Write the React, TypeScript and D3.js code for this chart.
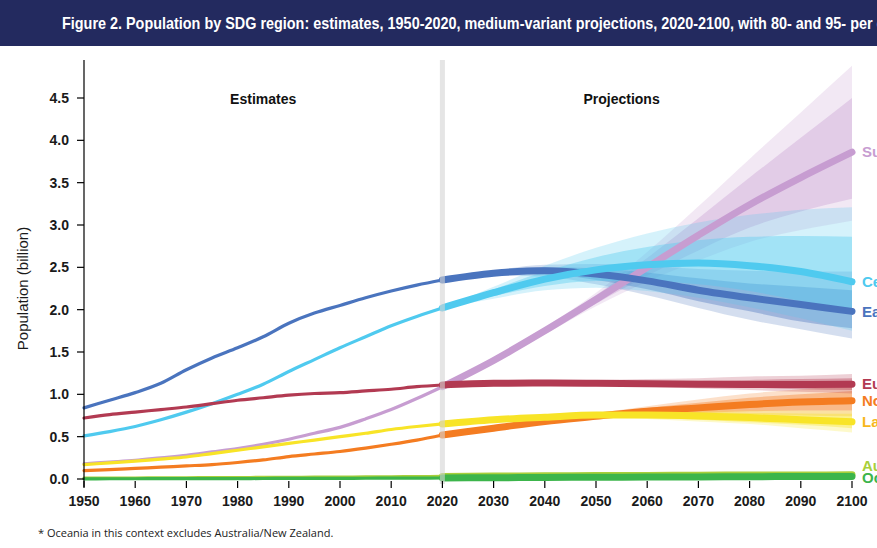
import React from 'react';
import * as d3 from 'd3';

const W = 877;
const H = 548;

const TITLE = 'Figure 2. Population by SDG region: estimates, 1950-2020, medium-variant projections, 2020-2100, with 80- and 95- per cent prediction intervals';
const FOOTNOTE = '* Oceania in this context excludes Australia/New Zealand.';
const Y_LABEL = 'Population (billion)';
const PERIOD_LABELS = ['Estimates', 'Projections'];

const EST_YEARS = [1950, 1955, 1960, 1965, 1970, 1975, 1980, 1985, 1990, 1995, 2000, 2005, 2010, 2015, 2020];
const PROJ_YEARS = [2020, 2030, 2040, 2050, 2060, 2070, 2080, 2090, 2100];
const X_TICKS = [1950, 1960, 1970, 1980, 1990, 2000, 2010, 2020, 2030, 2040, 2050, 2060, 2070, 2080, 2090, 2100];
const Y_TICKS = [0, 0.5, 1, 1.5, 2, 2.5, 3, 3.5, 4, 4.5];

// Sub-Saharan Africa
const ssaEst = [0.18, 0.2, 0.22, 0.25, 0.28, 0.32, 0.36, 0.41, 0.47, 0.54, 0.61, 0.71, 0.82, 0.95, 1.09];
const ssaProj = [1.09, 1.4, 1.75, 2.12, 2.5, 2.88, 3.24, 3.56, 3.86];
const ssaLo80 = [1.09, 1.39, 1.73, 2.07, 2.4, 2.7, 2.97, 3.16, 3.31];
const ssaHi80 = [1.09, 1.41, 1.77, 2.17, 2.61, 3.08, 3.56, 4.03, 4.5];
const ssaLo95 = [1.09, 1.39, 1.71, 2.04, 2.33, 2.58, 2.8, 2.94, 3.05];
const ssaHi95 = [1.09, 1.41, 1.79, 2.2, 2.68, 3.22, 3.78, 4.33, 4.88];

// Central and Southern Asia
const csaEst = [0.51, 0.56, 0.62, 0.7, 0.79, 0.89, 1.0, 1.12, 1.27, 1.41, 1.55, 1.68, 1.81, 1.92, 2.02];
const csaProj = [2.02, 2.2, 2.36, 2.47, 2.53, 2.55, 2.52, 2.45, 2.33];
const csaLo80 = [2.02, 2.16, 2.28, 2.34, 2.34, 2.3, 2.22, 2.1, 1.95];
const csaHi80 = [2.02, 2.24, 2.45, 2.62, 2.74, 2.82, 2.86, 2.87, 2.86];
const csaLo95 = [2.02, 2.13, 2.23, 2.26, 2.22, 2.14, 2.03, 1.9, 1.75];
const csaHi95 = [2.02, 2.27, 2.52, 2.73, 2.9, 3.03, 3.12, 3.18, 3.21];

// Eastern and South-Eastern Asia
const esaEst = [0.84, 0.93, 1.02, 1.13, 1.29, 1.43, 1.55, 1.68, 1.84, 1.96, 2.05, 2.14, 2.22, 2.29, 2.35];
const esaProj = [2.35, 2.43, 2.46, 2.42, 2.34, 2.23, 2.14, 2.06, 1.98];
const esaLo80 = [2.35, 2.41, 2.42, 2.35, 2.24, 2.1, 1.98, 1.86, 1.78];
const esaHi80 = [2.35, 2.45, 2.5, 2.49, 2.44, 2.37, 2.31, 2.27, 2.23];
const esaLo95 = [2.35, 2.4, 2.39, 2.3, 2.17, 2.02, 1.88, 1.77, 1.66];
const esaHi95 = [2.35, 2.46, 2.53, 2.54, 2.52, 2.48, 2.46, 2.45, 2.45];

// Europe and Northern America
const enaEst = [0.72, 0.76, 0.79, 0.82, 0.85, 0.89, 0.93, 0.96, 0.99, 1.01, 1.02, 1.04, 1.06, 1.09, 1.11];
const enaProj = [1.11, 1.13, 1.135, 1.13, 1.125, 1.12, 1.115, 1.115, 1.12];
const enaLo80 = [1.11, 1.12, 1.12, 1.11, 1.1, 1.09, 1.08, 1.06, 1.05];
const enaHi80 = [1.11, 1.14, 1.15, 1.15, 1.16, 1.16, 1.17, 1.18, 1.19];
const enaLo95 = [1.11, 1.12, 1.11, 1.1, 1.09, 1.07, 1.05, 1.03, 1.01];
const enaHi95 = [1.11, 1.14, 1.16, 1.17, 1.18, 1.19, 1.21, 1.22, 1.24];

// Northern Africa and Western Asia
const nawEst = [0.1, 0.11, 0.125, 0.14, 0.155, 0.17, 0.195, 0.225, 0.265, 0.295, 0.325, 0.365, 0.41, 0.46, 0.52];
const nawProj = [0.52, 0.6, 0.68, 0.74, 0.8, 0.84, 0.88, 0.91, 0.925];
const nawLo80 = [0.52, 0.595, 0.67, 0.72, 0.76, 0.78, 0.8, 0.81, 0.81];
const nawHi80 = [0.52, 0.605, 0.69, 0.76, 0.84, 0.9, 0.96, 1.0, 1.04];
const nawLo95 = [0.52, 0.59, 0.66, 0.71, 0.74, 0.75, 0.76, 0.75, 0.74];
const nawHi95 = [0.52, 0.61, 0.7, 0.78, 0.86, 0.94, 1.01, 1.06, 1.1];

// Latin America and the Caribbean
const lacEst = [0.17, 0.19, 0.21, 0.235, 0.26, 0.3, 0.34, 0.38, 0.42, 0.46, 0.5, 0.54, 0.585, 0.62, 0.65];
const lacProj = [0.65, 0.7, 0.73, 0.755, 0.755, 0.745, 0.725, 0.7, 0.675];
const lacLo80 = [0.65, 0.695, 0.72, 0.735, 0.72, 0.7, 0.67, 0.64, 0.6];
const lacHi80 = [0.65, 0.705, 0.74, 0.775, 0.79, 0.79, 0.78, 0.775, 0.77];
const lacLo95 = [0.65, 0.69, 0.715, 0.725, 0.71, 0.68, 0.65, 0.6, 0.55];
const lacHi95 = [0.65, 0.71, 0.745, 0.785, 0.8, 0.81, 0.81, 0.81, 0.81];

// Australia/New Zealand
const anzEst = [0.01, 0.011, 0.012, 0.014, 0.015, 0.016, 0.017, 0.019, 0.02, 0.021, 0.023, 0.024, 0.026, 0.028, 0.03];
const anzProj = [0.03, 0.034, 0.037, 0.04, 0.042, 0.045, 0.047, 0.048, 0.049];
const anzLo80 = [0.03, 0.033, 0.036, 0.038, 0.04, 0.041, 0.042, 0.043, 0.043];
const anzHi80 = [0.03, 0.035, 0.038, 0.042, 0.045, 0.048, 0.051, 0.053, 0.055];
const anzLo95 = [0.03, 0.033, 0.035, 0.037, 0.038, 0.039, 0.04, 0.04, 0.04];
const anzHi95 = [0.03, 0.035, 0.039, 0.043, 0.047, 0.051, 0.054, 0.057, 0.06];

// Oceania*
const oceEst = [0.002, 0.003, 0.003, 0.004, 0.004, 0.005, 0.005, 0.006, 0.007, 0.007, 0.008, 0.009, 0.01, 0.011, 0.012];
const oceProj = [0.012, 0.015, 0.018, 0.021, 0.023, 0.025, 0.027, 0.029, 0.03];
const oceLo80 = [0.012, 0.015, 0.017, 0.02, 0.021, 0.022, 0.024, 0.025, 0.025];
const oceHi80 = [0.012, 0.015, 0.019, 0.022, 0.025, 0.028, 0.03, 0.032, 0.034];
const oceLo95 = [0.012, 0.014, 0.017, 0.019, 0.02, 0.021, 0.022, 0.023, 0.023];
const oceHi95 = [0.012, 0.016, 0.019, 0.023, 0.026, 0.029, 0.032, 0.035, 0.037];

type Region = {
  name: string; color: string; labelColor: string; labelDy: number;
  est: number[]; proj: number[]; lo80: number[]; hi80: number[]; lo95: number[]; hi95: number[];
};

const REGIONS: Region[] = [
  { name: 'Sub-Saharan Africa', color: '#c79dd1', labelColor: '#c79dd1', labelDy: 0, est: ssaEst, proj: ssaProj, lo80: ssaLo80, hi80: ssaHi80, lo95: ssaLo95, hi95: ssaHi95 },
  { name: 'Eastern and South-Eastern Asia', color: '#4a74be', labelColor: '#4a74be', labelDy: 0, est: esaEst, proj: esaProj, lo80: esaLo80, hi80: esaHi80, lo95: esaLo95, hi95: esaHi95 },
  { name: 'Central and Southern Asia', color: '#4fcaef', labelColor: '#4fcaef', labelDy: 0, est: csaEst, proj: csaProj, lo80: csaLo80, hi80: csaHi80, lo95: csaLo95, hi95: csaHi95 },
  { name: 'Northern Africa and Western Asia', color: '#f47c21', labelColor: '#f47c21', labelDy: 0, est: nawEst, proj: nawProj, lo80: nawLo80, hi80: nawHi80, lo95: nawLo95, hi95: nawHi95 },
  { name: 'Latin America and the Caribbean', color: '#f8e427', labelColor: '#f7b71d', labelDy: 0, est: lacEst, proj: lacProj, lo80: lacLo80, hi80: lacHi80, lo95: lacLo95, hi95: lacHi95 },
  { name: 'Europe and Northern America', color: '#b23a52', labelColor: '#b23a52', labelDy: 0, est: enaEst, proj: enaProj, lo80: enaLo80, hi80: enaHi80, lo95: enaLo95, hi95: enaHi95 },
  { name: 'Australia/New Zealand', color: '#a8cf3a', labelColor: '#a8cf3a', labelDy: -9, est: anzEst, proj: anzProj, lo80: anzLo80, hi80: anzHi80, lo95: anzLo95, hi95: anzHi95 },
  { name: 'Oceania*', color: '#3cb54b', labelColor: '#3cb54b', labelDy: 1, est: oceEst, proj: oceProj, lo80: oceLo80, hi80: oceHi80, lo95: oceLo95, hi95: oceHi95 },
];

const x = d3.scaleLinear().domain([1950, 2100]).range([84, 852]);
const y = d3.scaleLinear().domain([0, 4.5]).range([479, 98]);

const line = d3.line<[number, number]>().x(d => x(d[0])).y(d => y(d[1])).curve(d3.curveMonotoneX);
const area = d3.area<[number, number, number]>().x(d => x(d[0])).y0(d => y(d[1])).y1(d => y(d[2])).curve(d3.curveMonotoneX);

const zip2 = (ys: number[], vs: number[]) => ys.map((yr, i) => [yr, vs[i]] as [number, number]);
const zip3 = (ys: number[], a: number[], b: number[]) => ys.map((yr, i) => [yr, a[i], b[i]] as [number, number, number]);

const AXIS_FONT = 'Arial, "Liberation Sans", Helvetica, sans-serif';

export default function App() {
  const x2020 = x(2020);
  return (
    <svg width={W} height={H} viewBox={`0 0 ${W} ${H}`} style={{ position: 'fixed', left: 0, top: 0, background: '#fff', overflow: 'hidden' }}>
      <rect x={0} y={0} width={W} height={H} fill="#ffffff" />
      <rect x={0} y={0} width={W} height={46} fill="#232a5f" />
      <text transform="translate(62, 29) scale(0.9, 1)" x={0} y={0} fill="#ffffff" fontFamily={AXIS_FONT} fontWeight="bold" fontSize={16}>{TITLE}</text>

      {/* prediction intervals */}
      {REGIONS.map(r => (
        <g key={r.name + 'band'}>
          <path d={area(zip3(PROJ_YEARS, r.lo95, r.hi95)) || ''} fill={r.color} fillOpacity={0.24} />
          <path d={area(zip3(PROJ_YEARS, r.lo80, r.hi80)) || ''} fill={r.color} fillOpacity={0.38} />
        </g>
      ))}

      {/* estimates */}
      {REGIONS.map(r => (
        <path key={r.name + 'est'} d={line(zip2(EST_YEARS, r.est)) || ''} fill="none" stroke={r.color} strokeWidth={3.2} strokeLinecap="round" />
      ))}

      {/* projections */}
      {REGIONS.map(r => (
        <path key={r.name + 'proj'} d={line(zip2(PROJ_YEARS, r.proj)) || ''} fill="none" stroke={r.color} strokeWidth={7} strokeLinecap="round" />
      ))}

      {/* 2020 divider */}
      <rect x={x2020 - 2.5} y={60} width={5} height={424} fill="#d4d4d4" fillOpacity={0.6} />

      {/* y axis */}
      <line x1={84} x2={84} y1={60} y2={487} stroke="#000" strokeWidth={1.2} />
      {Y_TICKS.map(t => (
        <g key={'y' + t}>
          <line x1={77} x2={84} y1={y(t)} y2={y(t)} stroke="#000" strokeWidth={1.2} />
          <text x={69} y={y(t)} dy="0.35em" textAnchor="end" fontFamily={AXIS_FONT} fontWeight="bold" fontSize={14} fill="#1a1a1a">{t.toFixed(1)}</text>
        </g>
      ))}
      <text transform={`translate(28, ${y(2.25)}) rotate(-90)`} textAnchor="middle" fontFamily={AXIS_FONT} fontSize={15} fill="#1a1a1a">{Y_LABEL}</text>

      {/* x axis ticks */}
      {X_TICKS.map(t => (
        <g key={'x' + t}>
          <line x1={x(t)} x2={x(t)} y1={481} y2={488} stroke="#000" strokeWidth={1.2} />
          <text x={x(t)} y={506} textAnchor="middle" fontFamily={AXIS_FONT} fontWeight="bold" fontSize={14} fill="#1a1a1a">{t}</text>
        </g>
      ))}

      <text x={x(1985)} y={104} textAnchor="middle" fontFamily={AXIS_FONT} fontWeight="bold" fontSize={14} fill="#111">{PERIOD_LABELS[0]}</text>
      <text x={x(2055)} y={104} textAnchor="middle" fontFamily={AXIS_FONT} fontWeight="bold" fontSize={14} fill="#111">{PERIOD_LABELS[1]}</text>

      {/* end labels */}
      {REGIONS.map(r => (
        <text key={r.name + 'lab'} x={862} y={y(r.proj[r.proj.length - 1]) + r.labelDy} dy="0.35em" fontFamily={AXIS_FONT} fontWeight="bold" fontSize={15} fill={r.labelColor}>{r.name}</text>
      ))}

      <text x={38} y={537} fontFamily='"Open Sans", "Liberation Sans", sans-serif' fontSize={11} fill="#222">{FOOTNOTE}</text>
    </svg>
  );
}
